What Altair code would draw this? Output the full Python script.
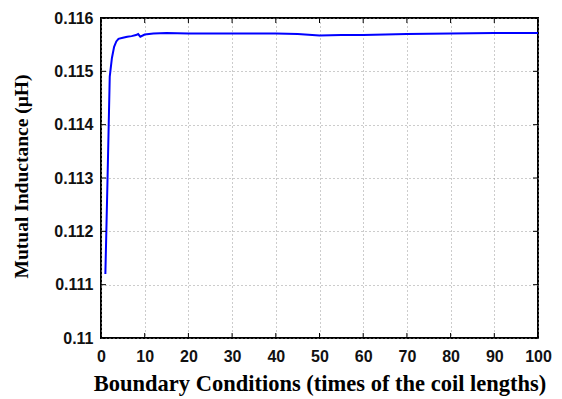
import altair as alt
import pandas as pd

x_vals = [1, 1.5, 2, 2.5, 3, 3.5, 4, 5, 6, 7, 8, 8.5, 9, 10, 12, 15, 20, 25, 30, 35, 40, 45, 50, 55, 60, 70, 80, 90, 100]
y_vals = [0.11120, 0.11300, 0.11490, 0.11525, 0.11546, 0.11556, 0.11561, 0.11563, 0.11565, 0.11566, 0.11568, 0.11570, 0.11565, 0.11569, 0.11571, 0.11572, 0.11571, 0.11571, 0.11571, 0.11571, 0.11571, 0.11570, 0.11567, 0.11568, 0.11568, 0.11570, 0.11571, 0.11572, 0.11572]
x_ticks = [0, 10, 20, 30, 40, 50, 60, 70, 80, 90, 100]
y_ticks = [0.11, 0.111, 0.112, 0.113, 0.114, 0.115, 0.116]

df = pd.DataFrame({"x": x_vals, "y": y_vals})
W, H = 437, 320

xs = alt.Scale(domain=[0, 100], nice=False)
ys = alt.Scale(domain=[0.11, 0.116], nice=False, zero=False)

line = alt.Chart(df).mark_line(color="#0000FF", strokeWidth=2).encode(
    x=alt.X("x:Q", scale=xs, axis=alt.Axis(
        values=x_ticks, title="Boundary Conditions (times of the coil lengths)",
        titleFont="Liberation Serif", titleFontSize=22.5, titleFontWeight="bold",
        titleColor="black", titlePadding=8,
        labelFont="Liberation Sans", labelFontSize=16, labelFontWeight="bold",
        labelColor="#111111", labelPadding=10, labelFlush=False, labelOverlap=False,
        tickSize=0, domain=False,
        grid=True, gridDash=[1, 3], gridColor="#999999", gridWidth=1)),
    y=alt.Y("y:Q", scale=ys, axis=alt.Axis(
        values=y_ticks, title="Mutual Inductance (μH)", format="~g",
        titleFont="Liberation Serif", titleFontSize=19.5, titleFontWeight="bold",
        titleColor="black", titlePadding=22, titleY=158,
        labelFont="Liberation Sans", labelFontSize=16, labelFontWeight="bold",
        labelColor="#111111", labelPadding=8, labelFlush=False, labelOverlap=False,
        tickSize=0, domain=False,
        grid=True, gridDash=[1, 3], gridColor="#999999", gridWidth=1)),
)

tdf_x = pd.DataFrame({"t": x_ticks})
tdf_y = pd.DataFrame({"t": y_ticks})
tick_b = alt.Chart(tdf_x).mark_rule(color="black", strokeWidth=1).encode(
    x=alt.X("t:Q", scale=xs), y=alt.value(H), y2=alt.value(H - 5))
tick_t = alt.Chart(tdf_x).mark_rule(color="black", strokeWidth=1).encode(
    x=alt.X("t:Q", scale=xs), y=alt.value(0), y2=alt.value(5))
tick_l = alt.Chart(tdf_y).mark_rule(color="black", strokeWidth=1).encode(
    y=alt.Y("t:Q", scale=ys), x=alt.value(0), x2=alt.value(5))
tick_r = alt.Chart(tdf_y).mark_rule(color="black", strokeWidth=1).encode(
    y=alt.Y("t:Q", scale=ys), x=alt.value(W), x2=alt.value(W - 5))

chart = alt.layer(line, tick_b, tick_t, tick_l, tick_r).properties(
    width=W, height=H,
    background="white",
    autosize=alt.AutoSizeParams(type="none"),
    padding={"left": 101, "top": 18, "right": 24, "bottom": 61},
).configure_view(stroke="black", strokeWidth=2)

chart.save("out.html", embed_options={"renderer": "svg", "actions": False})
